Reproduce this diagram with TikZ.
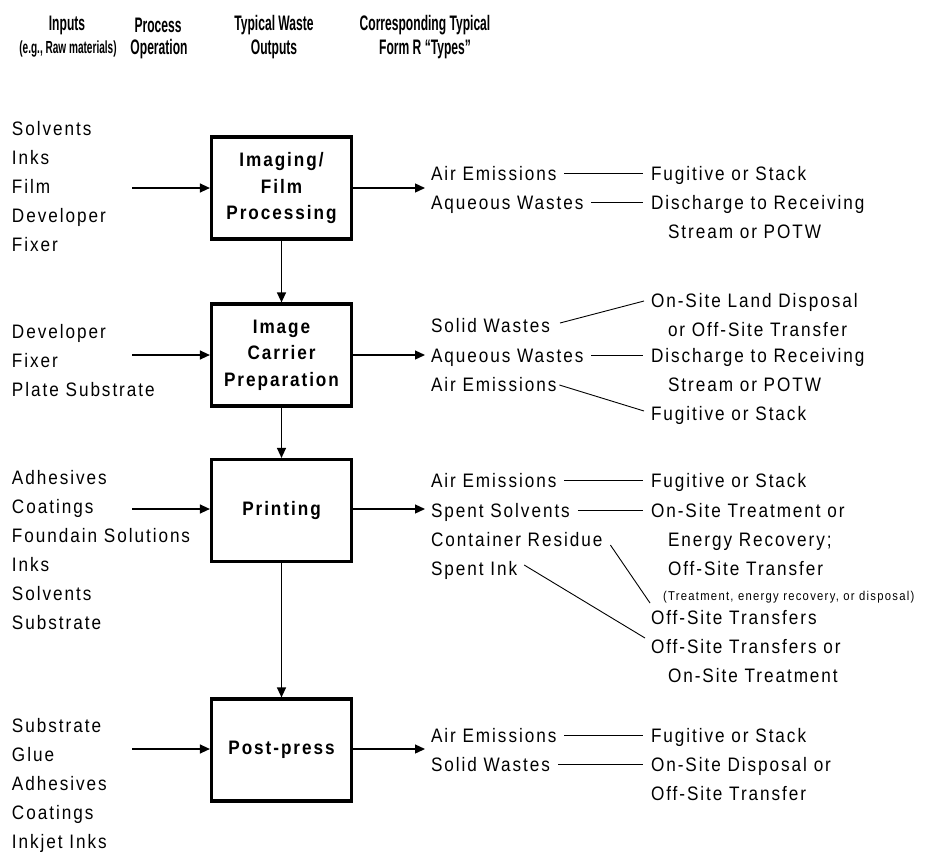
\documentclass[tikz,border=0pt]{standalone}
\usepackage{fontspec}
\setmainfont{Liberation Sans}[LetterSpace=10, FakeStretch=0.88]
\newfontfamily\headfont{Liberation Sans}[FakeStretch=0.575]
\usetikzlibrary{arrows.meta,calc}

% left-aligned stack of lines whose baseline is that of its first line
\newcommand\txtstack[1]{\begin{tabular}[t]{@{}l@{}}#1\end{tabular}}

\tikzset{
  txt/.style={anchor=base west, inner sep=0pt, outer sep=0pt,
              font=\fontsize{19.5}{29}\selectfont},
  smalltxt/.style={anchor=base west, inner sep=0pt, outer sep=0pt,
              font=\fontsize{12.8}{15}\selectfont},
  head/.style={inner sep=0pt, font=\headfont\bfseries\fontsize{21}{24}\selectfont},
  headsub/.style={inner sep=0pt, font=\headfont\bfseries\fontsize{17.5}{20}\selectfont},
  procbox/.style={draw, line width=3.2pt, minimum width=140pt, minimum height=102pt,
              inner sep=0pt, align=center, font=\bfseries\fontsize{19.5}{26.5}\selectfont},
  flow/.style={line width=1.3pt, -{Triangle[length=10pt,width=9pt]}},
  link/.style={line width=0.9pt},
}

\begin{document}
\begin{tikzpicture}[x=1pt, y=-1pt]
\useasboundingbox (0,0) rectangle (932,852);

% column headings
\node[head]    (hin)   at (67,25)  {Inputs};
\node[headsub] (hinb)  at (68,49)  {(e.g., Raw materials)};
\node[head]    (hpr)   at (158,25) {Process};
\node[head]    (hprb)  at (159,49) {Operation};
\node[head]    (hwo)   at (274,25) {Typical Waste};
\node[head]    (hwob)  at (274,49) {Outputs};
\node[head]    (hty)   at (425,25) {Corresponding Typical};
\node[head]    (htyb)  at (425,49) {Form R “Types”};

% process operations
\node[procbox] (p1) at (281.5,188)   {Imaging/\\Film\\Processing};
\node[procbox] (p2) at (281.5,355)   {Image\\Carrier\\Preparation};
\node[procbox] (p3) at (281.5,510.5) {Printing};
\node[procbox] (p4) at (281.5,750)   {Post-press};

\draw[flow] (p1.south) -- (p2.north);
\draw[flow] (p2.south) -- (p3.north);
\draw[flow] (p3.south) -- (p4.north);

% inputs
\node[txt] (in1) at (12,135) {\txtstack{Solvents\\Inks\\Film\\Developer\\Fixer}};
\node[txt] (in2) at (12,338) {\txtstack{Developer\\Fixer\\Plate Substrate}};
\node[txt] (in3) at (12,484) {\txtstack{Adhesives\\Coatings\\Foundain Solutions\\Inks\\Solvents\\Substrate}};
\node[txt] (in4) at (12,732) {\txtstack{Substrate\\Glue\\Adhesives\\Coatings\\Inkjet Inks}};

\coordinate (a1) at (132,188);
\coordinate (a2) at (132,355);
\coordinate (a3) at (132,509);
\coordinate (a4) at (132,749);
\draw[flow] (a1) -- (p1.west);
\draw[flow] (a2) -- (p2.west);
\draw[flow] (a3) -- (a3 -| p3.west);
\draw[flow] (a4) -- (a4 -| p4.west);

\coordinate (o1) at (425,188);
\coordinate (o2) at (425,355);
\coordinate (o3) at (425,509);
\coordinate (o4) at (425,749);
\draw[flow] (p1.east) -- (o1);
\draw[flow] (p2.east) -- (o2);
\draw[flow] (o3 -| p3.east) -- (o3);
\draw[flow] (o4 -| p4.east) -- (o4);

% imaging / film processing outputs
\node[txt] (w1a) at (431,180) {Air Emissions};
\node[txt] (w1b) at (431,209) {Aqueous Wastes};
\node[txt] (t1a) at (651,180) {Fugitive or Stack};
\node[txt] (t1b) at (651,209) {\txtstack{Discharge to Receiving\\\hspace*{17pt}Stream or POTW}};
\draw[link] ([shift={(8pt,7pt)}]w1a.base east) -- ([shift={(-8pt,7pt)}]t1a.base west);
\draw[link] ([shift={(8pt,7pt)}]w1b.base east) -- ([shift={(-8pt,7pt)}]t1b.base west);

% image carrier preparation outputs
\node[txt] (w2a) at (431,332) {Solid Wastes};
\node[txt] (w2b) at (431,362) {Aqueous Wastes};
\node[txt] (w2c) at (431,391) {Air Emissions};
\node[txt] (t2a) at (651,307) {\txtstack{On-Site Land Disposal\\\hspace*{17pt}or Off-Site Transfer}};
\node[txt] (t2b) at (651,362) {\txtstack{Discharge to Receiving\\\hspace*{17pt}Stream or POTW}};
\node[txt] (t2c) at (651,420) {Fugitive or Stack};
\draw[link] ([shift={(10pt,9pt)}]w2a.base east) -- ([shift={(-7pt,6pt)}]t2a.base west);
\draw[link] ([shift={(8pt,7pt)}]w2b.base east) -- ([shift={(-8pt,7pt)}]t2b.base west);
\draw[link] ([shift={(3pt,6pt)}]w2c.base east) -- ([shift={(-7pt,9pt)}]t2c.base west);

% printing outputs
\node[txt] (w3a) at (431,487) {Air Emissions};
\node[txt] (w3b) at (431,517) {Spent Solvents};
\node[txt] (w3c) at (431,546) {Container Residue};
\node[txt] (w3d) at (431,575) {Spent Ink};
\node[txt] (t3a) at (651,487) {Fugitive or Stack};
\node[txt] (t3b) at (651,517) {\txtstack{On-Site Treatment or\\\hspace*{17pt}Energy Recovery;\\\hspace*{17pt}Off-Site Transfer}};
\node[smalltxt] (t3c) at (663,600) {(Treatment, energy recovery, or disposal)};
\node[txt] (t3d) at (651,624) {Off-Site Transfers};
\node[txt] (t3e) at (651,653) {\txtstack{Off-Site Transfers or\\\hspace*{17pt}On-Site Treatment}};
\draw[link] ([shift={(8pt,7pt)}]w3a.base east) -- ([shift={(-8pt,7pt)}]t3a.base west);
\draw[link] ([shift={(8pt,7pt)}]w3b.base east) -- ([shift={(-8pt,7pt)}]t3b.base west);
\draw[link] ([shift={(8pt,1pt)}]w3c.base east) -- ([shift={(-1pt,21pt)}]t3d.base west);
\draw[link] ([shift={(7pt,10pt)}]w3d.base east) -- ([shift={(-6pt,15pt)}]t3e.base west);

% post-press outputs
\node[txt] (w4a) at (431,742) {Air Emissions};
\node[txt] (w4b) at (431,771) {Solid Wastes};
\node[txt] (t4a) at (651,742) {Fugitive or Stack};
\node[txt] (t4b) at (651,771) {\txtstack{On-Site Disposal or\\Off-Site Transfer}};
\draw[link] ([shift={(8pt,7pt)}]w4a.base east) -- ([shift={(-8pt,7pt)}]t4a.base west);
\draw[link] ([shift={(8pt,7pt)}]w4b.base east) -- ([shift={(-8pt,7pt)}]t4b.base west);
\end{tikzpicture}
\end{document}
